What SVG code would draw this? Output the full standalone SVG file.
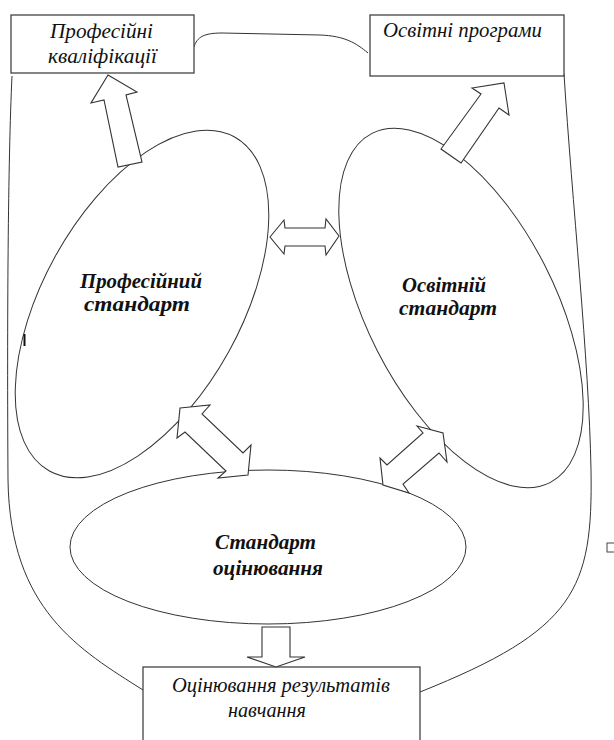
<svg xmlns="http://www.w3.org/2000/svg" width="614" height="740" viewBox="0 0 614 740">
<style>
.box{fill:#fff;stroke:#444;stroke-width:1.3}
.ell{fill:#fff;stroke:#333;stroke-width:1}
.con{fill:none;stroke:#333;stroke-width:1}
.blk{fill:#fff;stroke:#333;stroke-width:1.1;stroke-linejoin:miter}
.t{font-family:"Liberation Serif","Times New Roman",serif;font-style:italic;font-size:20px;fill:#111}
.b{font-family:"Liberation Serif","Times New Roman",serif;font-style:italic;font-weight:bold;font-size:20px;fill:#111}
</style>
<rect width="614" height="740" fill="#fff"/>
<g id="connectors">
<path class="con" d="M194,47 C197,37 204,33 222,33 L320,35 C345,36 356,43 368,53"/>
<path class="con" d="M12,76 C8,160 7,320 8,480 C10,610 80,650 143,690"/>
<path class="con" d="M564,74 C572,200 589,360 591,470 C593,590 575,630 420,692"/>
</g>
<g id="ellipse-prof">
<ellipse class="ell" cx="142" cy="304" rx="191" ry="99" transform="rotate(-61 142 304)"/>
<text class="b" x="80" y="288" textLength="122" lengthAdjust="spacingAndGlyphs">Професійний</text>
<text class="b" x="84" y="311" textLength="106" lengthAdjust="spacingAndGlyphs">стандарт</text>
</g>
<g id="ellipse-osv">
<ellipse class="ell" cx="461" cy="308" rx="196" ry="94" transform="rotate(63 461 308)"/>
<text class="b" x="402" y="292" textLength="84" lengthAdjust="spacingAndGlyphs">Освітній</text>
<text class="b" x="399" y="315" textLength="98" lengthAdjust="spacingAndGlyphs">стандарт</text>
</g>
<g id="ellipse-ocin">
<ellipse class="ell" cx="268" cy="547" rx="198" ry="77"/>
<text class="b" x="215" y="549" textLength="101" lengthAdjust="spacingAndGlyphs">Стандарт</text>
<text class="b" x="213" y="575" textLength="110" lengthAdjust="spacingAndGlyphs">оцінювання</text>
</g>
<g id="box-kval">
<rect class="box" x="11" y="15" width="183" height="58"/>
<text class="t" x="50" y="38" textLength="103" lengthAdjust="spacingAndGlyphs">Професійні</text>
<text class="t" x="48" y="63" textLength="109" lengthAdjust="spacingAndGlyphs">кваліфікації</text>
</g>
<g id="box-prog">
<rect class="box" x="370" y="15" width="194" height="61"/>
<text class="t" x="383" y="37" textLength="159" lengthAdjust="spacingAndGlyphs">Освітні програми</text>
</g>
<g id="box-ocin">
<rect class="box" x="143" y="667" width="277" height="80"/>
<text class="t" x="172" y="692" textLength="218" lengthAdjust="spacingAndGlyphs">Оцінювання результатів</text>
<text class="t" x="228" y="717" textLength="78" lengthAdjust="spacingAndGlyphs">навчання</text>
</g>
<g id="block-arrows">
<polygon class="blk" points="108,75 137,92 126,95 142,162 118,167 104,100 91,103"/>
<polygon class="blk" points="504,83 509,115 499,108 461,163 441,149 481,94 472,88"/>
<polygon class="blk" points="270,237 284,220 285,228 325,228 326,219 339,236 326,255 325,246 285,246 284,254"/>
<polygon class="blk" points="180,408 210,405 202,414 243,453 251,445 248,475 218,478 226,471 185,432 177,438"/>
<polygon class="blk" points="417,426 443,433 447,462 439,453 403,484 409,493 383,485 380,458 387,465 423,433"/>
<polygon class="blk" points="262,627 290,627 290,657 305,657 276,667 247,657 262,657"/>
</g>
<g id="marks">
<line x1="24.5" y1="334" x2="24.5" y2="346" stroke="#111" stroke-width="2"/>
<rect x="607" y="543" width="10" height="9" fill="none" stroke="#444" stroke-width="1"/>
</g>
</svg>
